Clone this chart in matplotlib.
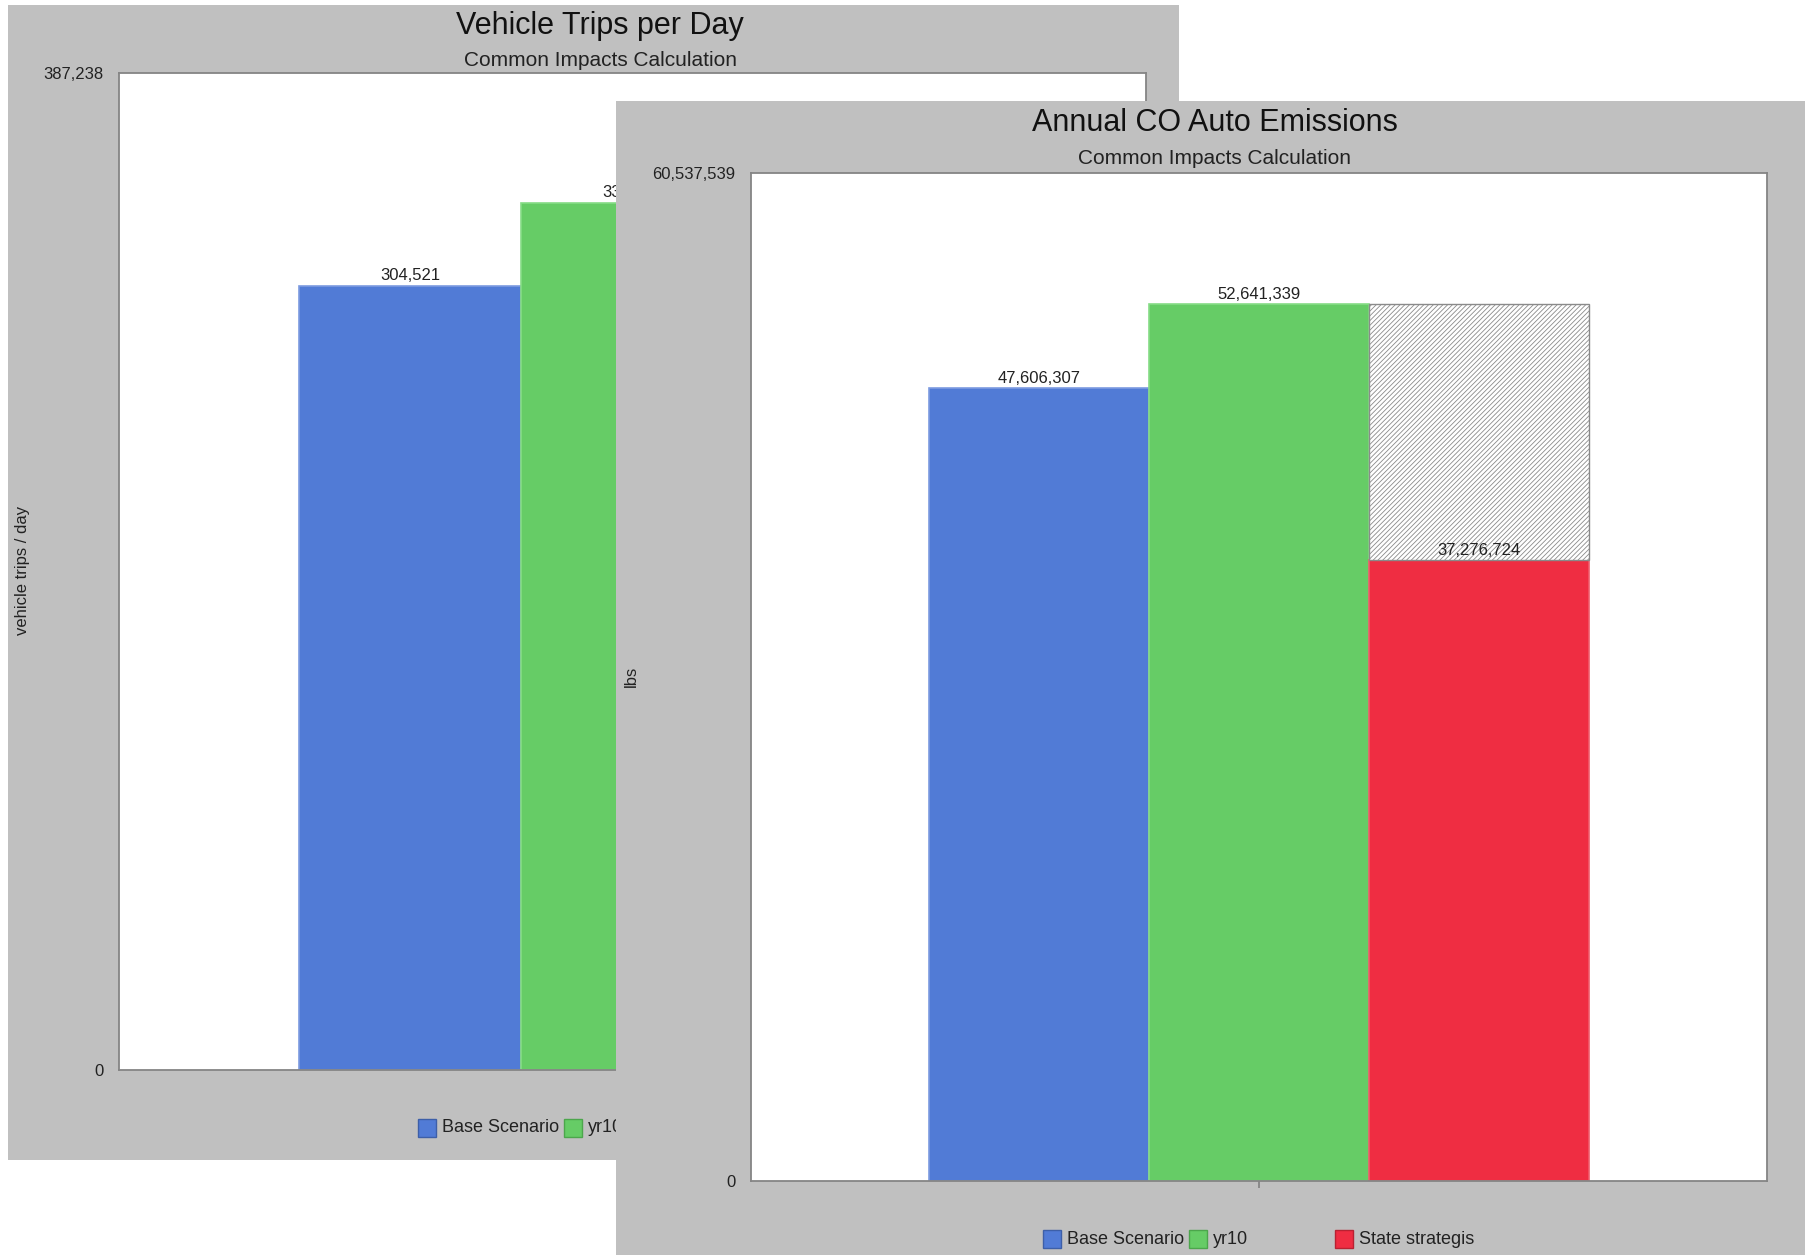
import matplotlib
matplotlib.use("Agg")
import matplotlib.pyplot as plt
from matplotlib.patches import Rectangle

plt.rcParams['font.family'] = ['Liberation Sans', 'DejaVu Sans']
plt.rcParams['hatch.linewidth'] = 0.6

# data
series = ['Base Scenario', 'yr10', 'State strategis']
trips = [304521, 336728]
trips_max = 387238
co_lbs = [47606307, 52641339, 37276724]
co_max = 60537539

colors = ['#517bd6', '#66cc66', '#ef2d42']
edges = ['#7d9be0', '#86dc86', '#f05a6a']
swatch_edges = ['#3d5fa8', '#4ca64c', '#b82232']
GREY = '#c0c0c0'

W, H = 1806, 1255
fig = plt.figure(figsize=(W / 100, H / 100), dpi=100)
fig.patch.set_facecolor('white')


def box(x0, y0, x1, y1):
    # pixel box (top-left origin) -> figure fraction rect
    return [x0 / W, 1 - y1 / H, (x1 - x0) / W, (y1 - y0) / H]


def fx(x):
    return x / W


def fy(y):
    return 1 - y / H


def panel(bg, axbox, zorder):
    r = box(*bg)
    fig.add_artist(Rectangle((r[0], r[1]), r[2], r[3], transform=fig.transFigure,
                             facecolor=GREY, edgecolor='none', zorder=zorder))
    ax = fig.add_axes(box(*axbox))
    ax.set_zorder(zorder + 1)
    ax.set_facecolor('white')
    for s in ax.spines.values():
        s.set_color('#858585')
        s.set_linewidth(1.3)
    return ax


def style_axis(ax, ymax):
    ax.set_xlim(-2.31, 2.31)
    ax.set_ylim(0, ymax)
    ax.set_yticks([0, ymax])
    ax.set_yticklabels(['0', f'{ymax:,}'], fontsize=12, color='#222222')
    ax.tick_params(axis='y', length=0, pad=11)
    ax.set_xticks([0])
    ax.set_xticklabels([''])
    ax.tick_params(axis='x', length=5, width=1.2, color='#808080')


def legend(ax, x0, yc, n):
    cell = 146
    sw = 18
    for i in range(n):
        x = x0 + i * cell
        ax.add_artist(Rectangle((fx(x), fy(yc + sw / 2)), sw / W, sw / H,
                                transform=fig.transFigure, facecolor=colors[i],
                                edgecolor=swatch_edges[i], linewidth=1, clip_on=False))
        ax.text(fx(x + 24), fy(yc), series[i], transform=fig.transFigure,
                fontsize=13, color='#222222', ha='left', va='center')


def titles(ax, xc, y_title, y_sub, title):
    ax.text(fx(xc), fy(y_title), title, transform=fig.transFigure,
            fontsize=22, ha='center', va='center', color='#111111')
    ax.text(fx(xc), fy(y_sub), 'Common Impacts Calculation', transform=fig.transFigure,
            fontsize=15, ha='center', va='center', color='#222222')


def value_label(ax, x, y, v):
    ax.annotate(f'{v:,}', (x, y), xytext=(0, 2), textcoords='offset points',
                ha='center', va='bottom', fontsize=12, color='#222222')


pos = [-1, 0, 1]

# left panel: vehicle trips
ax1 = panel((8, 5, 1179, 1160), (119, 73, 1146, 1070), 0)
style_axis(ax1, trips_max)
for i, v in enumerate(trips):
    ax1.bar(pos[i], v, width=1, color=colors[i], edgecolor=edges[i], linewidth=1.2, zorder=2)
    value_label(ax1, pos[i], v, v)
titles(ax1, 600, 26, 60, 'Vehicle Trips per Day')
ax1.text(fx(23), fy(570), 'vehicle trips / day', transform=fig.transFigure,
         rotation=90, fontsize=12, ha='center', va='center', color='#222222')
legend(ax1, 418, 1128, 2)

# right panel: CO emissions
ax2 = panel((616, 101, 1806, 1255), (751, 173, 1767, 1181), 2)
style_axis(ax2, co_max)
for i, v in enumerate(co_lbs):
    ax2.bar(pos[i], v, width=1, color=colors[i], edgecolor=edges[i], linewidth=1.2, zorder=2)
# reduction from yr10 down to the strategy scenario
ax2.bar(pos[2], co_lbs[1] - co_lbs[2], bottom=co_lbs[2], width=1, color='white',
        edgecolor='#8a8a8a', hatch='///////', linewidth=1.0, zorder=2)
for i, v in enumerate(co_lbs):
    value_label(ax2, pos[i], v, v)
titles(ax2, 1215, 123, 158, 'Annual CO Auto Emissions')
ax2.text(fx(631), fy(676), 'lbs', transform=fig.transFigure,
         rotation=90, fontsize=12, ha='center', va='center', color='#222222')
legend(ax2, 1043, 1239, 3)

fig.savefig('out.png', dpi=100)
